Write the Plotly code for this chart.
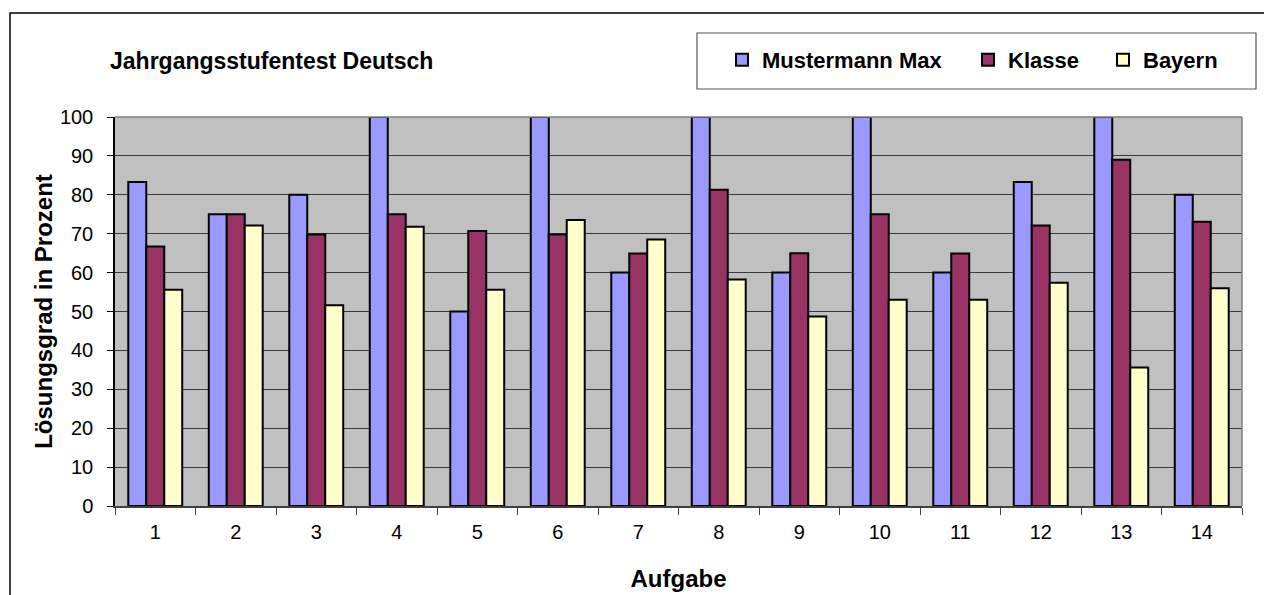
import plotly.graph_objects as go

aufgaben = [str(i) for i in range(1, 15)]
mustermann = [83.3, 75, 80, 100, 50, 100, 60, 100, 60, 100, 60, 83.3, 100, 80]
klasse = [66.7, 75, 69.8, 75, 70.7, 69.8, 64.9, 81.3, 65, 75, 64.9, 72.1, 89, 73.1]
bayern = [55.6, 72.1, 51.6, 71.8, 55.6, 73.5, 68.5, 58.2, 48.7, 53.0, 53.0, 57.4, 35.6, 56.0]
y_ticks = list(range(0, 101, 10))

FONT = "Liberation Sans, Arial, sans-serif"
W, H = 1264, 595
ML, MR, MT, MB = 115, 22, 117, 89
PW, PH = W - ML - MR, H - MT - MB

def px(x):
    return (x - ML) / PW

def py(y):
    return (H - MB - y) / PH

line = dict(color="black", width=2)
fig = go.Figure()
fig.add_trace(go.Bar(name="Mustermann Max", x=aufgaben, y=mustermann,
                     marker=dict(color="#9999FF", line=line), legend="legend"))
fig.add_trace(go.Bar(name="Klasse", x=aufgaben, y=klasse,
                     marker=dict(color="#993366", line=line), legend="legend2"))
fig.add_trace(go.Bar(name="Bayern", x=aufgaben, y=bayern,
                     marker=dict(color="#FFFFCC", line=line), legend="legend3"))

leg_common = dict(font=dict(family=FONT, size=22, color="black", weight="bold"),
                  bgcolor="rgba(0,0,0,0)", borderwidth=0,
                  yanchor="middle", y=py(60), xanchor="left")

fig.update_layout(
    width=W, height=H,
    margin=dict(l=ML, r=MR, t=MT, b=MB, autoexpand=False),
    paper_bgcolor="white",
    plot_bgcolor="#C0C0C0",
    barmode="group",
    bargap=0.33,
    bargroupgap=0,
    font=dict(family=FONT, color="black"),
    title=dict(text="<b>Jahrgangsstufentest Deutsch</b>",
               font=dict(family=FONT, size=23, color="black"),
               xref="container", x=110 / W, xanchor="left",
               yref="container", y=1 - 61 / H, yanchor="middle"),
    showlegend=True,
    legend=dict(**leg_common, x=px(722)),
    legend2=dict(**leg_common, x=px(968)),
    legend3=dict(**leg_common, x=px(1103)),
    xaxis=dict(
        type="category",
        automargin=False,
        tickson="boundaries",
        ticks="outside", ticklen=7, tickcolor="#404040", tickwidth=1.2,
        showgrid=False,
        showline=True, linecolor="#404040", linewidth=1.5,
        tickfont=dict(family=FONT, size=20, color="black"),
        ticklabelstandoff=7,
        title=dict(text="<b>Aufgabe</b>", font=dict(family=FONT, size=24, color="black"),
                   standoff=28),
        range=[-0.5, 13.5],
    ),
    yaxis=dict(
        range=[0, 100],
        automargin=False,
        tickvals=y_ticks,
        ticks="outside", ticklen=6, tickcolor="black", tickwidth=1.2,
        showgrid=True, gridcolor="#3a3a3a", gridwidth=1.2,
        showline=True, linecolor="black", linewidth=1.5,
        zeroline=False,
        tickfont=dict(family=FONT, size=20, color="black"),
        ticklabelstandoff=10,
        title=dict(text="<b>Lösungsgrad in Prozent</b>",
                   font=dict(family=FONT, size=24, color="black"), standoff=0),
    ),
    shapes=[
        # outer chart frame
        dict(type="rect", xref="paper", yref="paper",
             x0=px(10), x1=px(1300), y0=py(640), y1=py(13),
             line=dict(color="black", width=1.5), fillcolor="rgba(0,0,0,0)", layer="above"),
        # legend box
        dict(type="rect", xref="paper", yref="paper",
             x0=px(697), x1=px(1256), y0=py(89), y1=py(33),
             line=dict(color="#555555", width=1.2), fillcolor="rgba(0,0,0,0)", layer="above"),
        # plot area top/right border
        dict(type="line", xref="paper", yref="paper", x0=0, x1=1, y0=1, y1=1,
             line=dict(color="#808080", width=1.5)),
        dict(type="line", xref="paper", yref="paper", x0=1, x1=1, y0=0, y1=1,
             line=dict(color="#808080", width=1.5)),
    ],
)

fig.write_html("out.html", config={"displayModeBar": False},
               post_script="document.body.style.margin='0';")
